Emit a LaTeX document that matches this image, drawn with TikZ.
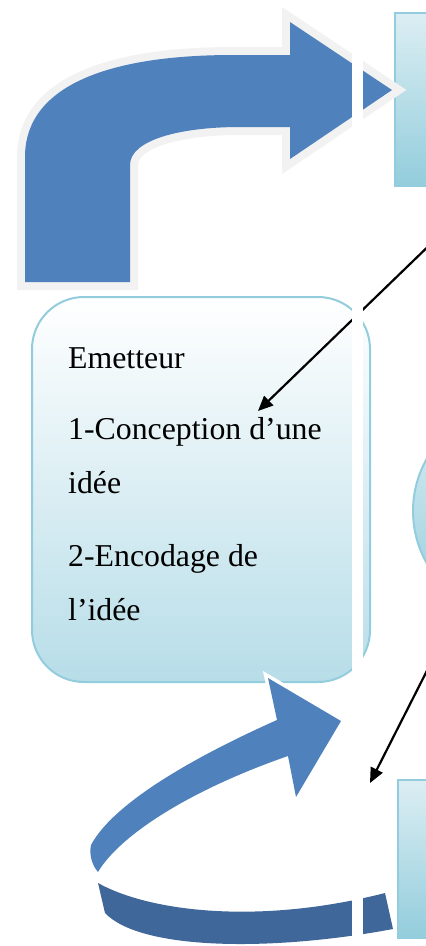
\documentclass[tikz,border=0pt]{standalone}
\usepackage{fontspec}
\setmainfont{Liberation Serif}
\usetikzlibrary{arrows.meta}
\definecolor{arrowblue}{HTML}{4F81BD}
\definecolor{arrowdark}{HTML}{40679A}
\definecolor{outlinegray}{HTML}{F2F2F2}
\definecolor{boxborder}{HTML}{93CDDD}
\definecolor{boxbottom}{HTML}{B7DDE8}
\definecolor{recttop}{HTML}{DCEEF3}
\definecolor{rectbottom}{HTML}{93CDDC}
\tikzset{
  shapebox/.style={draw=boxborder, line width=2pt, top color=recttop, bottom color=rectbottom},
  bigarrow/.style={fill=arrowblue, line join=miter, preaction={draw=outlinegray, line width=16pt, line join=miter}},
  curvearrow/.style={line join=miter, preaction={draw=white, line width=7pt, line join=miter}},
  pointer/.style={draw=black, line width=2.2pt, -{Triangle[length=15pt,width=13pt]}},
  label/.style={anchor=base west, inner sep=0pt, font=\fontsize{31.8pt}{38pt}\selectfont}
}
\begin{document}
\begin{tikzpicture}[x=1pt,y=-1pt]
\useasboundingbox (0,0) rectangle (426,946);
\clip (0,0) rectangle (426,946);
% right-hand shapes (partly outside the page)
\path[shapebox] (395,13) rectangle (450,186);
\path[shapebox] (519,511) circle[radius=106pt];
\path[shapebox] (398,780) rectangle (450,938);
% top bent arrow
\path[bigarrow] (25,282) -- (25,157) .. controls (25,85) and (110,55) .. (233,55)
  -- (290,55) -- (290,22) -- (392,90) -- (290,159) -- (290,127) -- (240,127)
  .. controls (180,127) and (130,140) .. (130,165) -- (130,282) -- cycle;
% Emetteur box
\path[draw=boxborder, line width=2pt, top color=white, bottom color=boxbottom, rounded corners=52pt]
  (32,297) rectangle (370,682);
\node[label] (t1) at (68,368) {Emetteur};
\node[label] (t2) at (68,439) {1-Conception d’une};
\node[label] (t3) at (68,493) {idée};
\node[label] (t4) at (68,566) {2-Encodage de};
\node[label] (t5) at (68,620) {l’idée};
% bottom curved arrow: back band
\path[curvearrow, fill=arrowdark] (98,883) .. controls (150,912) and (260,925) .. (385,893)
  -- (393,929) .. controls (270,952) and (140,950) .. (105,913) -- cycle;
% bottom curved arrow: front band with head
\path[curvearrow, fill=arrowblue] (277,720) .. controls (205,752) and (115,800) .. (91,845)
  .. controls (89,855) and (92,865) .. (98,872)
  .. controls (120,835) and (190,790) .. (288,756)
  -- (296,797) -- (341,721) -- (268,678) -- cycle;
% pointers
\coordinate (p1s) at (440,235);
\coordinate (p1e) at (258,411);
\coordinate (p2s) at (440,645);
\coordinate (p2e) at (370,783);
\draw[pointer] (p1s) -- (p1e);
\draw[pointer] (p2s) -- (p2e);
% white vertical band
\fill[white] (352,-5) rectangle (363,951);
\end{tikzpicture}
\end{document}
